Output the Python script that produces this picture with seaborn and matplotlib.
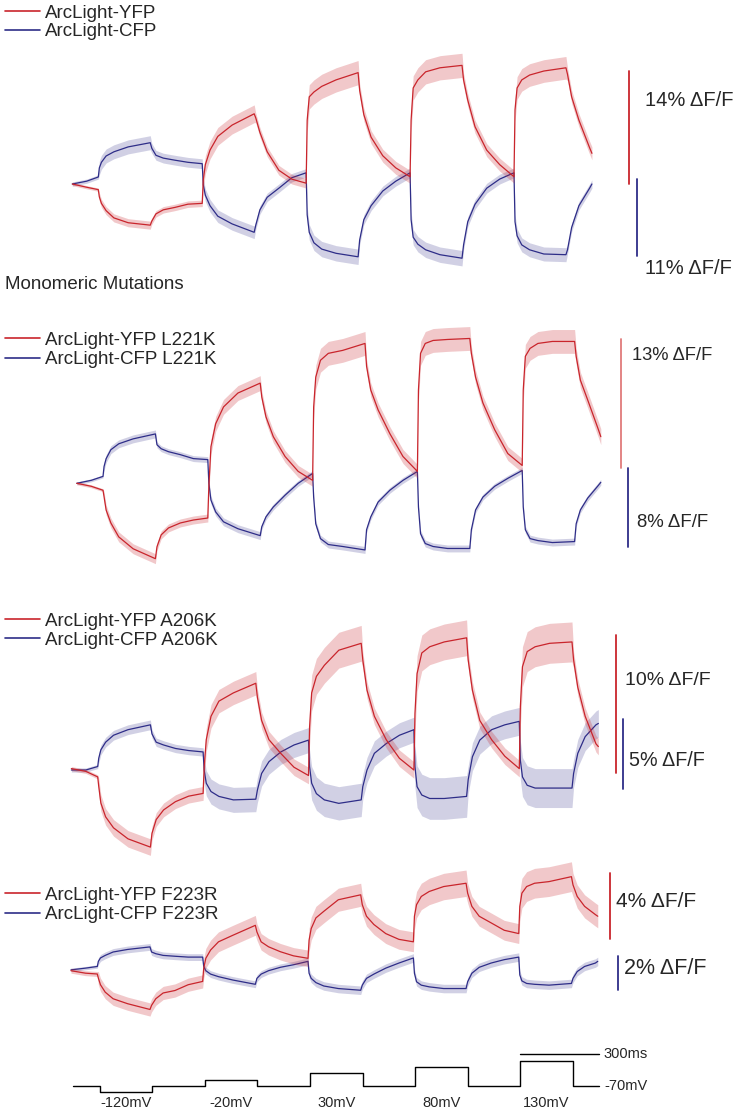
import numpy as np
import pandas as pd
import matplotlib
matplotlib.use('Agg')
import matplotlib.pyplot as plt
from matplotlib.lines import Line2D
import seaborn as sns

sns.set_theme(style='white')
plt.rcParams['font.family'] = ['Liberation Sans', 'DejaVu Sans']

# ---------------- data ----------------
# voltage protocol (ms / mV)
onsets = [100, 500, 900, 1300, 1700]
step_len = 200
step_mv = [-120, -20, 30, 80, 130]
hold_mv = -70
scalebar_ms = 300

# sample times of the traces (ms)
offsets = [0, 4, 12, 30, 60, 115, 200, 206, 222, 250, 295, 345]
offsets_last = [0, 4, 12, 30, 60, 115, 200, 206, 222, 250, 291, 300]
t_ms = [0, 55] + [on + o for on in onsets[:-1] for o in offsets] + [onsets[-1] + o for o in offsets_last]

# dF/F (%), one list per trace
yfp_wt = [0, -0.4,
          -0.7, -1.6, -2.4, -3.3, -4.2, -4.8, -5.1, -4.6, -3.7, -3.2, -2.9, -2.5,
          -2.4, 0.5, 2.4, 4.2, 5.9, 7.3, 8.7, 8.2, 6.4, 4.0, 1.7, 0.6,
          0.1, 7.9, 10.8, 11.4, 12.1, 12.9, 13.8, 11.6, 8.6, 5.8, 3.5, 2.0,
          0.9, 7.9, 11.9, 12.9, 13.9, 14.4, 14.7, 12.9, 10.4, 7.1, 4.2, 2.4,
          0.9, 9.2, 11.9, 12.9, 13.5, 14.0, 14.4, 13.6, 10.8, 7.9, 4.5, 3.8]
cfp_wt = [0, 0.4,
          1.0, 2.3, 3.1, 4.0, 4.6, 5.3, 5.9, 5.1, 4.1, 3.7, 3.4, 3.1,
          2.9, -0.1, -1.6, -3.1, -4.6, -5.7, -6.9, -5.9, -3.7, -1.9, -0.6, 0.9,
          1.6, -4.4, -6.9, -8.4, -9.3, -9.9, -10.4, -8.0, -5.1, -3.1, -1.0, 0.4,
          1.6, -5.1, -7.6, -8.6, -9.4, -10.1, -10.6, -8.7, -5.4, -2.9, -0.6, 0.7,
          1.6, -5.4, -7.4, -8.7, -9.4, -10.0, -10.1, -9.4, -6.2, -3.1, -0.6, 0.0]

yfp_l221k = [0, -0.3,
             -0.7, -1.35, -2.7, -4.0, -5.4, -6.6, -7.6, -6.4, -5.2, -4.5, -4.0, -3.7,
             -3.5, -0.3, 3.7, 6.0, 7.7, 9.1, 10.1, 8.7, 6.7, 4.7, 2.7, 1.2,
             0.3, 7.7, 10.7, 12.4, 13.1, 13.4, 14.1, 11.8, 9.4, 7.4, 5.0, 2.7,
             1.2, 9.4, 13.1, 14.1, 14.4, 14.5, 14.6, 13.1, 10.7, 8.1, 5.4, 3.0,
             1.8, 9.4, 12.8, 13.6, 14.1, 14.3, 14.3, 12.8, 10.4, 8.4, 5.4, 4.7]
cfp_l221k = [0, 0.3,
             0.7, 1.7, 2.5, 3.4, 4.0, 4.5, 5.0, 3.9, 3.5, 3.2, 2.9, 2.5,
             2.4, 0.0, -1.7, -2.9, -3.9, -4.6, -5.3, -4.4, -3.4, -2.4, -1.2, 0.0,
             1.0, -1.4, -4.1, -5.6, -6.2, -6.4, -6.75, -4.7, -3.4, -1.9, -0.7, 0.3,
             1.2, -2.4, -5.1, -6.1, -6.4, -6.6, -6.6, -4.7, -2.7, -1.4, -0.3, 0.5,
             1.3, -2.4, -4.7, -5.6, -5.8, -6.0, -5.9, -4.1, -2.7, -1.5, -0.2, 0.1]

yfp_a206k = [0.1, -0.1,
             -0.5, -1.2, -2.4, -3.4, -4.2, -5.0, -5.6, -4.6, -3.6, -2.9, -2.3, -1.9,
             -1.7, 0.2, 2.2, 3.9, 5.0, 5.6, 6.3, 5.3, 3.6, 2.2, 1.2, 0.2,
             -0.4, 3.1, 5.6, 6.8, 7.6, 8.7, 9.2, 8.0, 5.8, 3.9, 2.2, 0.85,
             0.0, 4.1, 7.0, 8.5, 8.95, 9.3, 9.6, 8.0, 5.8, 3.6, 2.2, 1.0,
             0.1, 4.6, 7.5, 8.6, 8.95, 9.2, 9.3, 8.0, 6.0, 3.9, 1.9, 1.7]
cfp_a206k = [0, 0,
             0.25, 0.85, 1.45, 2.0, 2.5, 2.9, 3.25, 2.6, 2.0, 1.8, 1.55, 1.4,
             1.3, 0.0, -0.95, -1.55, -1.9, -2.15, -2.1, -1.45, -0.25, 0.6, 1.3, 1.8,
             2.15, 0.25, -0.95, -1.7, -2.15, -2.4, -2.15, -1.2, 0.0, 1.2, 1.9, 2.5,
             2.9, 0.25, -1.2, -1.8, -2.05, -2.05, -1.9, -0.7, 0.95, 2.15, 2.9, 3.25,
             3.5, 0.7, -0.5, -1.1, -1.3, -1.3, -1.3, -0.25, 1.2, 2.4, 3.25, 3.35]

yfp_f223r = [0, -0.15,
             -0.2, -0.45, -0.85, -1.3, -1.7, -2.0, -2.35, -2.1, -1.7, -1.35, -1.2, -0.85,
             -0.65, 0.15, 0.75, 1.25, 1.75, 2.15, 2.75, 2.35, 1.75, 1.45, 1.15, 0.9,
             0.75, 1.85, 2.55, 3.2, 3.6, 4.3, 4.6, 4.0, 3.3, 2.8, 2.25, 1.9,
             1.75, 3.3, 4.0, 4.5, 4.8, 5.1, 5.3, 4.7, 3.9, 3.3, 2.9, 2.45,
             2.25, 3.9, 4.7, 5.1, 5.3, 5.4, 5.7, 5.2, 4.5, 3.9, 3.4, 3.3]
cfp_f223r = [0.05, 0.15,
             0.25, 0.55, 0.75, 0.9, 1.1, 1.25, 1.4, 1.1, 1.0, 0.9, 0.85, 0.8,
             0.8, 0.25, 0.0, -0.2, -0.35, -0.55, -0.8, -0.45, -0.2, 0.0, 0.2, 0.35,
             0.55, -0.15, -0.45, -0.7, -0.9, -1.05, -1.15, -0.85, -0.45, -0.2, 0.15, 0.45,
             0.75, -0.15, -0.65, -0.85, -0.95, -1.05, -1.05, -0.65, -0.15, 0.2, 0.45, 0.65,
             0.8, -0.25, -0.6, -0.75, -0.8, -0.85, -0.75, -0.45, -0.05, 0.25, 0.45, 0.55]

# SEM (%) per phase: pre, step1, post1, ... step5, post5
sem_yfp = [[0.2, 0.5, 0.4, 1.1, 0.6, 1.5, 0.8, 1.5, 0.8, 1.4, 0.8],
           [0.15, 0.5, 0.4, 0.75, 0.6, 1.2, 0.7, 1.2, 0.7, 1.2, 0.8],
           [0.15, 0.6, 0.5, 0.85, 0.6, 1.3, 0.6, 1.3, 0.6, 1.45, 0.6],
           [0.15, 0.4, 0.4, 0.6, 0.5, 0.7, 0.6, 0.8, 0.6, 0.9, 0.7]]
sem_cfp = [[0.3, 1.0, 0.7, 0.9, 0.6, 1.1, 0.7, 1.1, 0.7, 1.0, 0.6],
           [0.15, 0.4, 0.3, 0.4, 0.3, 0.35, 0.3, 0.35, 0.3, 0.35, 0.3],
           [0.15, 0.35, 0.3, 0.9, 0.9, 1.2, 0.9, 1.5, 1.0, 1.4, 1.0],
           [0.1, 0.2, 0.2, 0.2, 0.2, 0.25, 0.25, 0.25, 0.25, 0.25, 0.25]]

mutations = ['', ' L221K', ' A206K', ' F223R']
yfp_traces = [yfp_wt, yfp_l221k, yfp_a206k, yfp_f223r]
cfp_traces = [cfp_wt, cfp_l221k, cfp_a206k, cfp_f223r]
bar_yfp = [14, 13, 10, 4]
bar_cfp = [11, 8, 5, 2]

# ---------------- layout (pixels of the 737x1115 canvas) ----------------
W, H = 737, 1115
XMIN, XMAX = -20, 2300
RED = '#c9252c'
BLUE = '#2e2d88'

panels = [
    dict(onset_px=98.3, ppm=0.2598, base=184.0, ppu_y=8.07, ppu_c=7.0, top=40, bottom=280,
         key_y=(11, 30), rbar=(2143, 0.0), bbar=(2175, 0.7),
         rlab=(2204, 10.4, 14.5), blab=(2204, -12.0, 14.5), rbar_col=RED),
    dict(onset_px=103.0, ppm=0.2620, base=483.3, ppu_y=9.92, ppu_c=9.875, top=320, bottom=580,
         key_y=(338, 358), rbar=(2077, 1.5), bbar=(2104, 1.55),
         rlab=(2119, 12.9, 13.2), blab=(2138, -4.0, 13.4), rbar_col='#e07b7b'),
    dict(onset_px=97.7, ppm=0.2635, base=770.0, ppu_y=13.77, ppu_c=13.9, top=600, bottom=870,
         key_y=(619.3, 638.3), rbar=(2067, -0.2), bbar=(2094, 3.65),
         rlab=(2101, 6.5, 14), blab=(2116, 0.7, 14.2), rbar_col=RED),
    dict(onset_px=97.3, ppm=0.2634, base=970.7, ppu_y=16.5, ppu_c=17.0, top=860, bottom=1025,
         key_y=(893.3, 912.7), rbar=(2046, 1.9), bbar=(2078, 0.86),
         rlab=(2069, 4.2, 15), blab=(2101, 0.14, 15.5), rbar_col=RED),
]

phase_edges = sorted(onsets + [o + step_len for o in onsets])


def px_axes(fig, left, top, right, bottom):
    return fig.add_axes([left / W, 1 - bottom / H, (right - left) / W, (bottom - top) / H])


def draw_trace(ax, t, vals, sem, color, alpha):
    t = np.array(t, dtype=float)
    v = np.array(vals, dtype=float)
    s = np.array(sem)[np.searchsorted(phase_edges, t, side='left')]
    ax.fill_between(t, v - s, v + s, color=color, alpha=alpha, lw=0)
    df = pd.DataFrame({'t': t, 'dff': v})
    sns.lineplot(data=df, x='t', y='dff', ax=ax, color=color, lw=0.9,
                 estimator=None, sort=False)


def draw_key(fig, y, color, label):
    fig.add_artist(Line2D([5 / W, 40 / W], [1 - y / H] * 2, color=color, lw=1.2))
    fig.text(45 / W, 1 - (y + 6.5) / H, label, ha='left', va='baseline', fontsize=13.5)


fig = plt.figure(figsize=(W / 100, H / 100), dpi=100)

for i, p in enumerate(panels):
    left = p['onset_px'] - (onsets[0] - XMIN) * p['ppm']
    right = p['onset_px'] + (XMAX - onsets[0]) * p['ppm']
    ax = px_axes(fig, left, p['top'], right, p['bottom'])
    ax2 = ax.twinx()
    ax.set_xlim(XMIN, XMAX)
    ax.set_ylim(-(p['bottom'] - p['base']) / p['ppu_y'], (p['base'] - p['top']) / p['ppu_y'])
    ax2.set_ylim(-(p['bottom'] - p['base']) / p['ppu_c'], (p['base'] - p['top']) / p['ppu_c'])

    draw_trace(ax2, t_ms, cfp_traces[i], sem_cfp[i], BLUE, 0.22)
    draw_trace(ax, t_ms, yfp_traces[i], sem_yfp[i], RED, 0.25)
    ax.set_zorder(ax2.get_zorder() + 1)
    ax.patch.set_visible(False)

    # scale bars
    rx, rb = p['rbar']
    ax.plot([rx, rx], [rb, rb + bar_yfp[i]], color=p['rbar_col'], lw=1.3)
    bx, bt = p['bbar']
    ax2.plot([bx, bx], [bt, bt - bar_cfp[i]], color=BLUE, lw=1.3)
    tx, ty, fs = p['rlab']
    ax.text(tx, ty, f'{bar_yfp[i]}% \u0394F/F', ha='left', va='center', fontsize=fs)
    tx, ty, fs = p['blab']
    ax2.text(tx, ty, f'{bar_cfp[i]}% \u0394F/F', ha='left', va='center', fontsize=fs)

    for a in (ax, ax2):
        a.set_axis_off()

    draw_key(fig, p['key_y'][0], RED, 'ArcLight-YFP' + mutations[i])
    draw_key(fig, p['key_y'][1], BLUE, 'ArcLight-CFP' + mutations[i])

fig.text(5 / W, 1 - (282 + 6.7) / H, 'Monomeric Mutations', ha='left', va='baseline', fontsize=13.5)

# ---------------- voltage protocol ----------------
prot_t = [0]
prot_v = [hold_mv]
for on, mv in zip(onsets, step_mv):
    prot_t += [on, on + step_len]
    prot_v += [mv, hold_mv]
prot_t.append(2000)
prot_v.append(hold_mv)

ppm_p, on_px = 0.263, 99.5
ppu_mv, base_px = 0.1266, 1086.0
pax = px_axes(fig, on_px - (onsets[0] - XMIN) * ppm_p, 1035,
              on_px + (XMAX - onsets[0]) * ppm_p, 1112)
pax.set_xlim(XMIN, XMAX)
pax.set_ylim(hold_mv - (1112 - base_px) / ppu_mv, hold_mv + (base_px - 1035) / ppu_mv)
sns.lineplot(x=prot_t, y=prot_v, ax=pax, color='black', lw=1.0, drawstyle='steps-post',
             estimator=None, sort=False)
pax.plot([onsets[-1], onsets[-1] + scalebar_ms], [185, 185], color='black', lw=1.0)
pax.text(2018, 185, f'{scalebar_ms}ms', ha='left', va='center', fontsize=10.5)
pax.text(2018, hold_mv, f'{hold_mv}mV', ha='left', va='center', fontsize=10.5)
for on, mv in zip(onsets, step_mv):
    pax.text(on + step_len / 2, -204, f'{mv}mV', ha='center', va='center', fontsize=10.5)
pax.set_axis_off()

fig.savefig('out.png', dpi=100)
